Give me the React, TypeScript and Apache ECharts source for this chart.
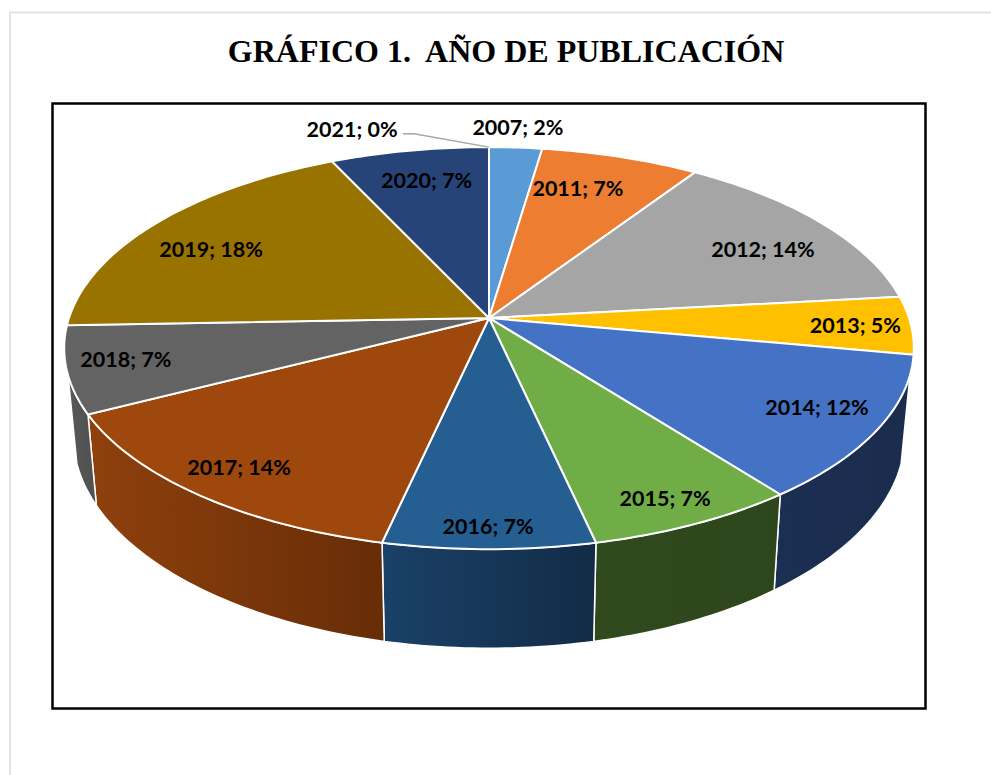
import React, { useEffect, useRef } from "react";
import * as echarts from "echarts";

const years = ["2007", "2011", "2012", "2013", "2014", "2015", "2016", "2017", "2018", "2019", "2020", "2021"];
const counts = [1, 3, 6, 2, 5, 3, 3, 6, 3, 8, 3, 0];
const shownPercents = [2, 7, 14, 5, 12, 7, 7, 14, 7, 18, 7, 0];
const topColors = ["#5B9BD5", "#ED7D31", "#A5A5A5", "#FFC000", "#4472C4", "#70AD47", "#255E91", "#9E480E", "#636363", "#997300", "#264478", "#43682B"];
const sideLeft = ["#2F4F6D", "#7A4019", "#555555", "#806000", "#1B2F52", "#304A1E", "#1A4168", "#8F400D", "#585858", "#6B5200", "#1A3054", "#2F481C"];
const sideRight = ["#2F4F6D", "#7A4019", "#555555", "#806000", "#1B2C4E", "#2D461B", "#122B46", "#672D07", "#505050", "#6B5200", "#1A3054", "#2F481C"];
const labelNudges = [[7, -51], [-19, 2], [4, 8], [29, 1], [22, 2], [16, 20], [-1, 29], [-23, 12], [-28, 0], [-8, 8], [3, -1], [-137, -49]];

const TITLE = "GRÁFICO 1.  AÑO DE PUBLICACIÓN";
const CX = 489, APEX_Y = 318, R = 420, H = 196.5, K = -0.15;
const RIM_CY = 348, BOTTOM_CY = 435, SCALE_X = 0.979, SCALE_Y = 1.06;
const SIDE_FROM = 106.2, SIDE_TO = 253.8, LABEL_R = 0.8;

const total = counts.reduce((a, b) => a + b, 0);
const cumulative: number[] = [];
counts.reduce((acc, v, i) => ((cumulative[i] = acc), acc + v), 0);
const startDeg = (i: number) => (cumulative[i] / total) * 360;
const endDeg = (i: number) => ((cumulative[i] + counts[i]) / total) * 360;

function project(deg: number, r = 1): [number, number] {
  const t = (deg * Math.PI) / 180;
  const u = r * Math.sin(t), v = -r * Math.cos(t);
  const d = 1 + K * v;
  return [CX + (R * u) / d, APEX_Y + (H * v) / d];
}
function lower(p: [number, number]): [number, number] {
  return [CX + (p[0] - CX) * SCALE_X, BOTTOM_CY + (p[1] - RIM_CY) * SCALE_Y];
}
function arc(a: number, b: number): [number, number][] {
  const n = Math.max(2, Math.ceil(b - a) + 1);
  const out: [number, number][] = [];
  for (let i = 0; i < n; i++) out.push(project(a + ((b - a) * i) / (n - 1)));
  return out;
}

export default function App() {
  const ref = useRef<HTMLDivElement>(null);
  useEffect(() => {
    const chart = echarts.init(ref.current!, null, { renderer: "svg" });
    const data = counts.map((v, i) => [i, v]);
    chart.setOption({
      animation: false,
      backgroundColor: "#ffffff",
      title: {
        text: TITLE,
        left: 501,
        top: 30,
        textAlign: "center",
        textStyle: { fontFamily: "Liberation Serif", fontWeight: "bold", fontSize: 32, color: "#000" },
      },
      graphic: [
        { type: "polyline", shape: { points: [[10, 775], [10, 12.5], [991, 12.5]] }, style: { stroke: "#e2e2e2", lineWidth: 2, fill: "none" } },
        { type: "rect", shape: { x: 52.5, y: 103.5, width: 873, height: 605 }, style: { stroke: "#000", lineWidth: 2.5, fill: "none" } },
      ],
      series: [
        {
          type: "custom",
          coordinateSystem: "none",
          silent: true,
          z: 2,
          data,
          renderItem: (p: any) => {
            const i = p.dataIndex;
            const a = Math.max(startDeg(i), SIDE_FROM), b = Math.min(endDeg(i), SIDE_TO);
            if (!(b > a)) return { type: "group", children: [] };
            const upper = arc(a, b);
            const pts = [...upper, ...upper.slice().reverse().map(lower)];
            return {
              type: "polygon",
              shape: { points: pts },
              style: {
                fill: new echarts.graphic.LinearGradient(0, 0, 1, 0, [
                  { offset: 0, color: sideLeft[i] },
                  { offset: 1, color: sideRight[i] },
                ]),
                stroke: "#fff",
                lineWidth: 1.5,
              },
            };
          },
        },
        {
          type: "custom",
          coordinateSystem: "none",
          silent: true,
          z: 3,
          data,
          renderItem: (p: any) => {
            const i = p.dataIndex;
            if (counts[i] <= 0) return { type: "group", children: [] };
            return {
              type: "polygon",
              shape: { points: [[CX, APEX_Y], ...arc(startDeg(i), endDeg(i))] },
              style: { fill: topColors[i], stroke: "#fff", lineWidth: 2 },
            };
          },
        },
        {
          type: "custom",
          coordinateSystem: "none",
          silent: true,
          z: 4,
          data,
          renderItem: (p: any) => {
            const i = p.dataIndex;
            const mid = (startDeg(i) + endDeg(i)) / 2;
            const c = project(mid, LABEL_R);
            const x = c[0] + labelNudges[i][0], y = c[1] + labelNudges[i][1];
            const children: any[] = [
              {
                type: "text",
                x,
                y,
                style: {
                  text: `${years[i]}; ${shownPercents[i]}%`,
                  fill: "#000",
                  font: "bold 21.5px Lato",
                  textAlign: "center",
                  textVerticalAlign: "middle",
                },
              },
            ];
            if (counts[i] === 0) {
              const rim = project(mid);
              children.unshift({
                type: "polyline",
                shape: { points: [[x + 51, y + 5], [x + 62, y + 5], rim] },
                style: { stroke: "#a6a6a6", lineWidth: 1.5, fill: "none" },
              });
            }
            return { type: "group", children };
          },
        },
      ],
    });
    return () => chart.dispose();
  }, []);
  return <div ref={ref} style={{ position: "absolute", left: 0, top: 0, width: 991, height: 775 }} />;
}
